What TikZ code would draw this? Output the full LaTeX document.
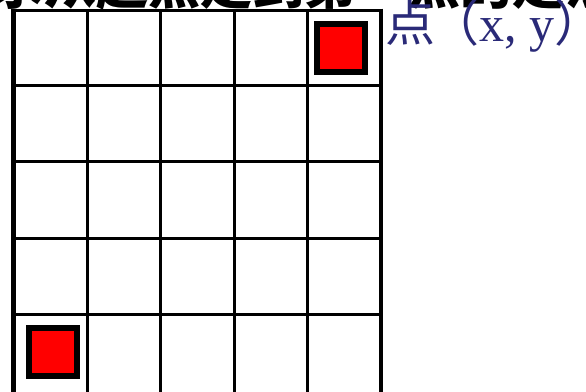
\documentclass[tikz,border=0pt]{standalone}
\usepackage{fontspec}
\setmainfont{Liberation Serif}
\newfontfamily\cjk{Noto Sans CJK SC}
\definecolor{navy}{RGB}{42,42,120}
\begin{document}
\begin{tikzpicture}[x=1pt,y=-1pt,
  gridline/.style={line width=3pt,black},
  marker/.style={draw=black,line width=6pt,fill=red,minimum width=48pt,minimum height=48pt,inner sep=0pt}]
\useasboundingbox (0,0) rectangle (586,391);
\clip (0,0) rectangle (586,391);
% title (cut off at top)
\node[anchor=base west,inner sep=0pt,font=\cjk\bfseries\fontsize{52}{52}\selectfont] (title) at (-8,4) {求从起点走到第一点的走法数};
% grid
\foreach \x in {87,160,234,307} \draw[gridline] (\x,10) -- (\x,395);
\foreach \y in {85,161,238,314} \draw[gridline] (14,\y) -- (381,\y);
\draw[gridline] (13,10) -- (382,10);
\draw[line width=5pt] (13.5,8.5) -- (13.5,395);
\draw[line width=4pt] (381,8.5) -- (381,395);
% markers
\node[marker] (goal) at (341,48) {};
\node[marker] (start) at (53,352) {};
% label
\node[anchor=base west,inner sep=0pt,text=navy,font=\fontsize{50}{50}\selectfont] (lbl) at (385,41) {{\cjk 点\kern-0.12em（}x, y{\cjk\makebox[0.5em][l]{）}}};
\end{tikzpicture}
\end{document}
